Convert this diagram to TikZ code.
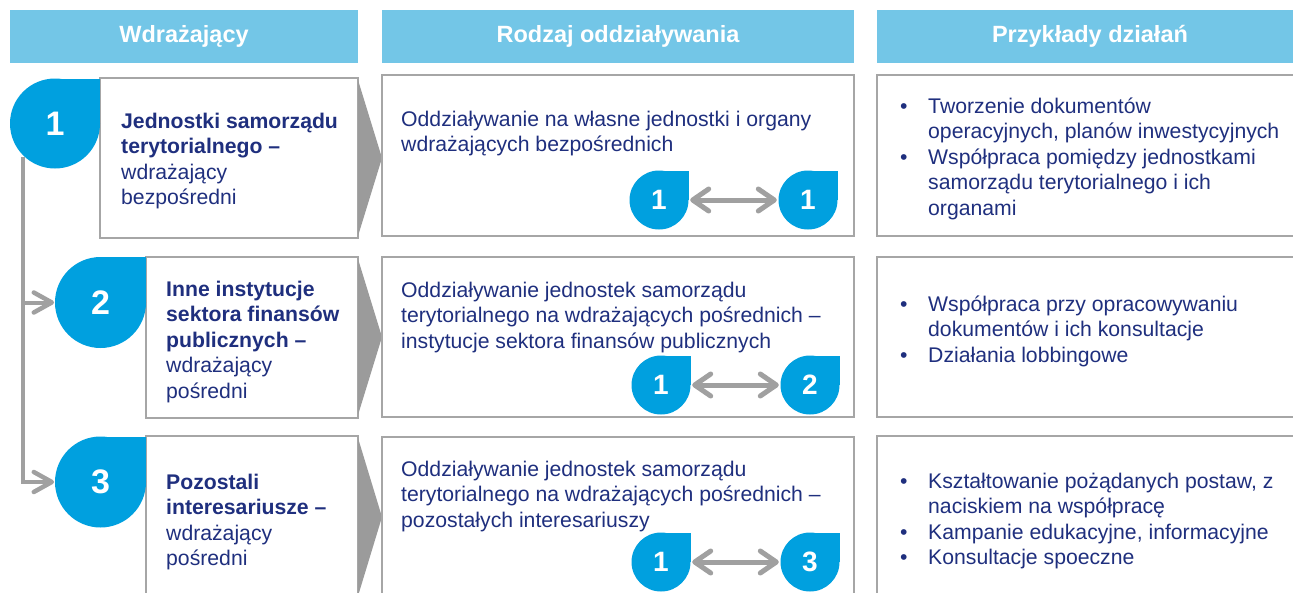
\documentclass[tikz,border=0pt]{standalone}
\usepackage{fontspec}
\setmainfont{Liberation Sans}
\usetikzlibrary{arrows.meta,calc}
\definecolor{hdrblue}{HTML}{73C6E7}
\definecolor{dropblue}{HTML}{00A0DF}
\definecolor{navy}{HTML}{1F2F7E}
\definecolor{bordergray}{HTML}{A6A6A6}
\definecolor{chevgray}{HTML}{9B9B9B}
\definecolor{arrgray}{HTML}{A0A0A0}
\tikzset{
  hdr/.style={fill=hdrblue, text=white, font=\bfseries\fontsize{23.5}{27}\selectfont, minimum height=53pt, inner sep=0pt},
  framebox/.style={draw=bordergray, line width=2pt, fill=white},
  chev/.style={fill=chevgray},
  txt/.style={text=navy, font=\fontsize{21.2}{25.5}\selectfont, align=left, inner sep=0pt, anchor=north west},
  bigdrop/.style={circle, fill=dropblue, inner sep=0pt, text=white, font=\bfseries\fontsize{34}{34}\selectfont},
  smalldrop/.style={circle, fill=dropblue, inner sep=0pt, text=white, font=\bfseries\fontsize{28}{28}\selectfont},
  lnk/.style={draw=arrgray, line width=4pt},
  lnkhead/.style={draw=arrgray, line width=4.5pt, line cap=round, line join=round},
  dbl/.style={draw=arrgray, line width=5pt},
  dblhead/.style={draw=arrgray, line width=5pt, line cap=round, line join=round},
}
% #1 name, #2 centre, #3 radius, #4 style, #5 number
\newcommand\dropnode[5]{%
  \fill[dropblue] (#2) ++(0,-#3) rectangle ++(#3,#3);
  \node[#4, minimum size=2*#3pt] (#1) at (#2) {#5};
}
% double arrow between two small drops
\newcommand\dblarrow[2]{%
  \draw[dbl] ($(#1.east)+(3,0)$) -- ($(#2.west)+(-3,0)$);
  \draw[dblhead] ($(#1.east)+(20,-11)$) -- ($(#1.east)+(4,0)$) -- ($(#1.east)+(20,11)$);
  \draw[dblhead] ($(#2.west)+(-20,-11)$) -- ($(#2.west)+(-4,0)$) -- ($(#2.west)+(-20,11)$);
}
\newcommand\strt{\rule{0pt}{16pt}}
\newcommand\bul{\makebox[28pt][l]{•}}
\newcommand\ind{\hspace*{28pt}}
\begin{document}
\begin{tikzpicture}[x=1pt,y=-1pt]
\path[use as bounding box, clip] (0,0) rectangle (1293,592);
\fill[white] (0,0) rectangle (1293,592);

% headers
\node[hdr, minimum width=348pt] (h1) at (184,36.5) {Wdrażający};
\node[hdr, minimum width=472pt] (h2) at (618,36.5) {Rodzaj oddziaływania};
\node[hdr, minimum width=426pt] (h3) at (1090,36.5) {Przykłady działań};

% left boxes
\draw[framebox] (100,78) rectangle (358,238);
\draw[framebox] (146,257) rectangle (358,418);
\draw[framebox] (146,436) rectangle (358,610);

% chevrons
\fill[chev] (358,80) -- (382,158) -- (358,236) -- cycle;
\fill[chev] (358,259) -- (382,337) -- (358,415) -- cycle;
\fill[chev] (358,438) -- (382,517) -- (358,596) -- cycle;

% middle boxes
\draw[framebox] (382,75) rectangle (854,236);
\draw[framebox] (382,257) rectangle (854,417);
\draw[framebox] (382,437) rectangle (854,610);

% right boxes
\draw[framebox] (877,75) rectangle (1310,236);
\draw[framebox] (877,257) rectangle (1310,417);
\draw[framebox] (877,436) rectangle (1310,610);

% connector line on the left
\coordinate (vtop) at (23,157);

% big drops
\dropnode{d1}{55,123.5}{45}{bigdrop}{1}
\dropnode{d2}{100.5,302.5}{45.5}{bigdrop}{2}
\dropnode{d3}{100.5,482}{45.5}{bigdrop}{3}

\draw[lnk] (vtop) |- ($(d3.west)+(-3,0)$);
\draw[lnk] (vtop |- d2.west) -- ($(d2.west)+(-3,0)$);
\draw[lnkhead] ($(d2.west)+(-21,-10)$) -- ($(d2.west)+(-3,0)$) -- ($(d2.west)+(-21,10)$);
\draw[lnkhead] ($(d3.west)+(-21,-10)$) -- ($(d3.west)+(-3,0)$) -- ($(d3.west)+(-21,10)$);

% left texts
\node[txt] (t1) at (121,112) {\strt\textbf{Jednostki samorządu}\\\textbf{terytorialnego –}\\wdrażający\\bezpośredni};
\node[txt] (t2) at (166,280) {\strt\textbf{Inne instytucje}\\\textbf{sektora finansów}\\\textbf{publicznych –}\\wdrażający\\pośredni};
\node[txt] (t3) at (166,473) {\strt\textbf{Pozostali}\\\textbf{interesariusze –}\\wdrażający\\pośredni};

% middle texts
\node[txt] (m1) at (401,110) {\strt Oddziaływanie na własne jednostki i organy\\wdrażających bezpośrednich};
\node[txt] (m2) at (401,281) {\strt Oddziaływanie jednostek samorządu\\terytorialnego na wdrażających pośrednich –\\instytucje sektora finansów publicznych};
\node[txt] (m3) at (401,460) {\strt Oddziaływanie jednostek samorządu\\terytorialnego na wdrażających pośrednich –\\pozostałych interesariuszy};

% small drops and arrows
\dropnode{a1}{659,200}{29.5}{smalldrop}{1}
\dropnode{b1}{808,200}{29.5}{smalldrop}{1}
\dblarrow{a1}{b1}
\dropnode{a2}{661,385}{29.5}{smalldrop}{1}
\dropnode{b2}{810,385}{29.5}{smalldrop}{2}
\dblarrow{a2}{b2}
\dropnode{a3}{661,562}{29.5}{smalldrop}{1}
\dropnode{b3}{810,562}{29.5}{smalldrop}{3}
\dblarrow{a3}{b3}

% right texts
\node[txt] (r1) at (900,97) {\strt\bul Tworzenie dokumentów\\\ind operacyjnych, planów inwestycyjnych\\\bul Współpraca pomiędzy jednostkami\\\ind samorządu terytorialnego i ich\\\ind organami};
\node[txt] (r2) at (900,295) {\strt\bul Współpraca przy opracowywaniu\\\ind dokumentów i ich konsultacje\\\bul Działania lobbingowe};
\node[txt] (r3) at (900,472) {\strt\bul Kształtowanie pożądanych postaw, z\\\ind naciskiem na współpracę\\\bul Kampanie edukacyjne, informacyjne\\\bul Konsultacje spoeczne};
\end{tikzpicture}
\end{document}
